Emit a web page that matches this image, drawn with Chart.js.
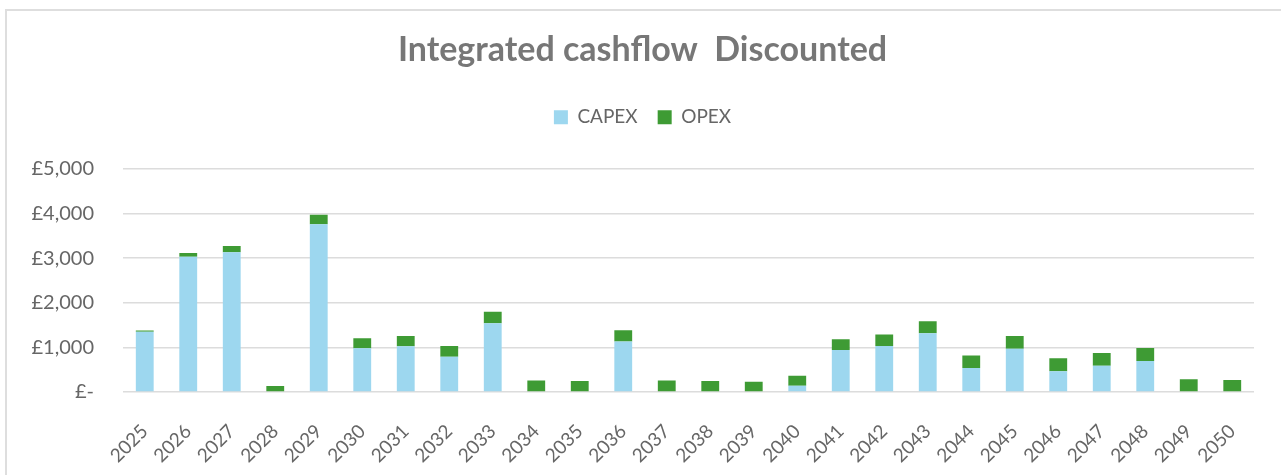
<!DOCTYPE html>
<html>
<head>
<meta charset="utf-8">
<script src="https://cdn.jsdelivr.net/npm/chart.js@4.4.1/dist/chart.umd.min.js"></script>
<style>
  html, body { margin: 0; padding: 0; background: #fff; overflow: hidden; }
  #frame {
    position: absolute; left: 5px; top: 9px; width: 1300px; height: 500px;
    border-left: 2px solid #dedede; border-top: 2px solid #dedede;
  }
  #cashflowChart { position: absolute; left: 0; top: 0; }
</style>
</head>
<body>
<div id="frame"></div>
<canvas id="cashflowChart" width="1281" height="475"></canvas>
<script>
// Dane (GBP, zdyskontowane)
const years = ['2025', '2026', '2027', '2028', '2029', '2030', '2031', '2032', '2033',
  '2034', '2035', '2036', '2037', '2038', '2039', '2040', '2041', '2042', '2043',
  '2044', '2045', '2046', '2047', '2048', '2049', '2050'];
const capex = [1350, 3030, 3130, 0, 3760, 980, 1025, 790, 1540,
  0, 0, 1130, 0, 0, 0, 140, 940, 1030, 1315,
  540, 970, 465, 590, 695, 0, 0];
const opex = [25, 85, 140, 135, 210, 225, 230, 240, 255,
  260, 245, 255, 260, 245, 230, 225, 240, 260, 270,
  275, 285, 290, 285, 290, 285, 270];
const yTicks = [0, 1000, 2000, 3000, 4000, 5000];

const textGrey = '#666666';

function formatGbp(value) {
  if (value === 0) return '£-';
  return '£' + value.toLocaleString('en-GB');
}

const ctx = document.getElementById('cashflowChart').getContext('2d');
const myChart = new Chart(ctx, {
  type: 'bar',
  data: {
    labels: years,
    datasets: [
      {
        label: 'CAPEX',
        data: capex,
        backgroundColor: '#9dd7ef',
        categoryPercentage: 1,
        barPercentage: 0.41,
      },
      {
        label: 'OPEX',
        data: opex,
        backgroundColor: '#3e9b34',
        categoryPercentage: 1,
        barPercentage: 0.41,
      },
    ],
  },
  options: {
    responsive: false,
    animation: false,
    layout: { padding: { top: 0, left: 31, right: 27, bottom: 4 } },
    plugins: {
      title: {
        display: true,
        text: 'Integrated cashflow  Discounted',
        color: '#777777',
        font: { family: 'Lato', size: 34, weight: 'bold', lineHeight: 1.2 },
        padding: { top: 30, bottom: 17 },
      },
      legend: {
        position: 'top',
        labels: {
          color: textGrey,
          font: { family: 'Lato', size: 19 },
          boxWidth: 14,
          boxHeight: 14,
          padding: 20,
        },
      },
      // pusty podtytuł jako odstęp między legendą a wykresem
      subtitle: {
        display: true,
        text: '',
        weight: 500,
        font: { size: 10, lineHeight: 1 },
        padding: { top: 0, bottom: 22 },
      },
      tooltip: { enabled: false },
    },
    scales: {
      x: {
        stacked: true,
        grid: { display: false },
        border: { display: false },
        afterFit: (scale) => {
          scale.height = 79;
        },
        ticks: {
          color: textGrey,
          font: { family: 'Lato', size: 19 },
          maxRotation: 45,
          minRotation: 45,
          padding: 20,
        },
      },
      y: {
        stacked: true,
        min: 0,
        max: 5000,
        border: { display: false },
        grid: { color: '#dcdcdc', lineWidth: 1.5, drawTicks: false },
        afterBuildTicks: (scale) => {
          scale.ticks = yTicks.map((v) => ({ value: v }));
        },
        // Chart.js liczy padding dwa razy - szerokość osi ustawiona ręcznie
        afterFit: (scale) => {
          scale.width = 92;
        },
        ticks: {
          color: textGrey,
          font: { family: 'Lato', size: 20 },
          padding: 29,
          callback: (value) => formatGbp(value),
        },
      },
    },
  },
});
</script>
</body>
</html>
